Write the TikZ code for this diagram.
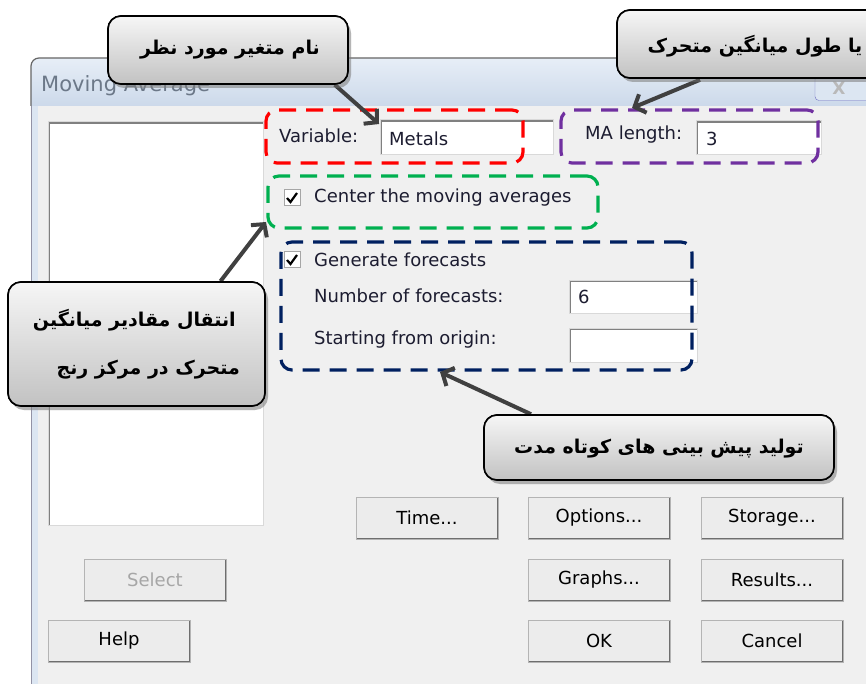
\documentclass[tikz,border=0pt]{standalone}
\usepackage{fontspec}
\setmainfont{DejaVu Sans}
\newfontfamily\fa[Script=Arabic]{DejaVu Sans}
\TeXXeTstate=1
\usetikzlibrary{shadows,arrows.meta,calc}
\definecolor{clientbg}{HTML}{F0F0F0}
\definecolor{titletop}{HTML}{E7EEF7}
\definecolor{titlebot}{HTML}{CCD9EA}
\definecolor{framecol}{HTML}{DCE6F2}
\definecolor{dlgtext}{HTML}{1C1C30}
\definecolor{titletext}{HTML}{6C7888}
\definecolor{btnfill}{HTML}{ECECEC}
\definecolor{btnedge}{HTML}{B4B4B4}
\definecolor{btndark}{HTML}{6E6E6E}
\definecolor{redbox}{HTML}{FF0000}
\definecolor{greenbox}{HTML}{00B050}
\definecolor{purplebox}{HTML}{7030A0}
\definecolor{navybox}{HTML}{002060}
\definecolor{arrowcol}{HTML}{404040}
\definecolor{calltop}{HTML}{F6F6F6}
\definecolor{callbot}{HTML}{C2C2C2}
\begin{document}
\begin{tikzpicture}[x=1pt,y=-1pt,
  dlg/.style={font=\fontsize{18}{20}\selectfont, text=dlgtext, inner sep=0pt, anchor=west},
  btn/.style={draw=btnedge, fill=btnfill, line width=1pt, minimum width=142pt, minimum height=42pt,
    inner sep=0pt, font=\fontsize{18}{20}\selectfont, text=black,
    path picture={\draw[line width=3pt, btndark] (path picture bounding box.south west) -- (path picture bounding box.south east) -- (path picture bounding box.north east);}},
  tbox/.style={fill=white, draw=white!85!black, line width=1pt, inner sep=0pt,
    path picture={\draw[line width=3.5pt, gray] (path picture bounding box.south west) -- (path picture bounding box.north west) -- (path picture bounding box.north east);}},
  chk/.style={fill=white, draw=gray!70, line width=1pt, minimum size=16pt, inner sep=0pt},
  dashbox/.style={draw=#1, line width=3.2pt, dash pattern=on 17pt off 10pt, rounded corners=11pt, inner sep=0pt},
  callout/.style={draw=black, line width=1.6pt, rounded corners=13pt, top color=calltop, bottom color=callbot,
    drop shadow={shadow xshift=3pt, shadow yshift=-4pt, opacity=0.35}, inner sep=0pt},
  calltext/.style={font=\fa\bfseries\fontsize{19}{22}\selectfont, text=black, inner sep=0pt},
  callarrow/.style={draw=arrowcol, line width=4pt, -{Straight Barb[length=9pt, width=20pt, line width=4pt]}}
]
\useasboundingbox (0,0) rectangle (866,684);
\fill[white] (0,0) rectangle (866,684);

% window
\shade[top color=titletop, bottom color=titlebot] (31,70) [rounded corners=8pt] -- (31,58) -- (870,58) [sharp corners] -- (870,106) -- (31,106) -- cycle;
\draw[line width=1.2pt, gray!80!black] (31,106) [rounded corners=8pt] -- (31,58) -- (870,58);
\fill[framecol] (31,106) rectangle (38,684);
\draw[line width=1pt, white!75!blue!30!gray] (31.5,106) -- (31.5,684);
\fill[clientbg] (38,106) rectangle (866,684);
\node[font=\fontsize{21}{24}\selectfont, text=titletext, anchor=west, inner sep=0pt] (title) at (41,86) {Moving Average};
\node[draw=gray!60!blue!80, fill=framecol, rounded corners=4pt, minimum width=60pt, minimum height=25pt, inner sep=0pt] (close) at (845,88) {};
\node[font=\bfseries\fontsize{17}{18}\selectfont, text=gray!55, inner sep=0pt] (closex) at (839,88) {X};

% list box
\node[tbox, minimum width=215pt, minimum height=403pt] (list) at (155.5,323.5) {};

% variable
\node[dlg] (varlbl) at (279,136) {Variable:};
\node[tbox, minimum width=173pt, minimum height=35pt] (varbox) at (466.5,137.5) {};
\node[dlg] (varval) at (389,139) {Metals};

% MA length
\node[dlg] (malbl) at (585,135) {MA length:};
\node[tbox, minimum width=125pt, minimum height=34pt] (mabox) at (758.5,138) {};
\node[dlg] (maval) at (706,139) {3};

% center checkbox
\node[chk] (chk1) at (292,198) {};
\draw[line width=2.2pt, black] ($(chk1.center)+(-5,0)$) -- ($(chk1.center)+(-1.5,4)$) -- ($(chk1.center)+(5,-5)$);
\node[dlg] (centerlbl) at (314,198) {Center the moving averages};

% forecasts
\node[chk] (chk2) at (292,260) {};
\draw[line width=2.2pt, black] ($(chk2.center)+(-5,0)$) -- ($(chk2.center)+(-1.5,4)$) -- ($(chk2.center)+(5,-5)$);
\node[dlg] (genlbl) at (314,260) {Generate forecasts};
\node[dlg] (numlbl) at (314,296) {Number of forecasts:};
\node[tbox, minimum width=128pt, minimum height=33pt] (numbox) at (633,296.5) {};
\node[dlg] (numval) at (578,297) {6};
\node[dlg] (startlbl) at (314,340) {Starting from origin:};
\node[tbox, minimum width=128pt, minimum height=34pt] (startbox) at (633,345) {};

% dashed boxes
\node[dashbox=redbox, minimum width=257pt, minimum height=53pt] (redb) at (394.5,136.5) {};
\node[dashbox=purplebox, minimum width=257pt, minimum height=53pt] (purb) at (689.5,136.5) {};
\node[dashbox=greenbox, minimum width=330pt, minimum height=52pt] (greb) at (433,202) {};
\node[dashbox=navybox, minimum width=411pt, minimum height=128pt] (navb) at (486.5,306) {};

% buttons
\node[btn] (time) at (427,518) {Time...};
\node[btn] (options) at (599,518) {Options...};
\node[btn] (storage) at (772,518) {Storage...};
\node[btn, text=gray!70] (select) at (155,580) {Select};
\node[btn] (graphs) at (599,580) {Graphs...};
\node[btn] (results) at (772,580) {Results...};
\node[btn] (help) at (119,641) {Help};
\node[btn] (ok) at (599,641) {OK};
\node[btn] (cancel) at (772,641) {Cancel};

% callout boxes (placed first for anchors)
\node[callout, minimum width=240pt, minimum height=68pt] (c1) at (228,50) {};
\node[callout, minimum width=262pt, minimum height=68pt] (c2) at (748,44) {};
\node[callout, minimum width=257pt, minimum height=124pt] (c3) at (136.5,344) {};
\node[callout, minimum width=350pt, minimum height=65pt] (c4) at (659,447.5) {};

% arrow tips
\coordinate (t1) at (379,124);
\coordinate (t2) at (632,108);
\coordinate (t3) at (266,222);
\coordinate (t4) at (440,372);

\draw[callarrow] ([xshift=-14pt]c1.south east) -- (t1);
\draw[callarrow] ([xshift=-48pt,yshift=-1pt]c2.south) -- (t2);
\draw[callarrow] ([xshift=84pt]c3.north) -- (t3);
\draw[callarrow] ([xshift=-128pt]c4.north) -- (t4);

% redraw callouts on top of arrow starts
\node[callout, minimum width=240pt, minimum height=68pt] at (c1) {};
\node[callout, minimum width=262pt, minimum height=68pt] at (c2) {};
\node[callout, minimum width=257pt, minimum height=124pt] at (c3) {};
\node[callout, minimum width=350pt, minimum height=65pt] at (c4) {};

\node[calltext] (c1t) at (230,50) {\beginR نام متغیر مورد نظر\endR};
\node[calltext] (c2t) at (755,46) {\beginR یا طول میانگین متحرک\endR};
\node[calltext, anchor=east] (c3t1) at (236,320) {\beginR انتقال مقادیر میانگین\endR};
\node[calltext, anchor=east] (c3t2) at (240,370) {\beginR متحرک در مرکز رنج\endR};
\node[calltext] (c4t) at (659,449) {\beginR تولید پیش بینی های کوتاه مدت\endR};
\end{tikzpicture}
\end{document}
